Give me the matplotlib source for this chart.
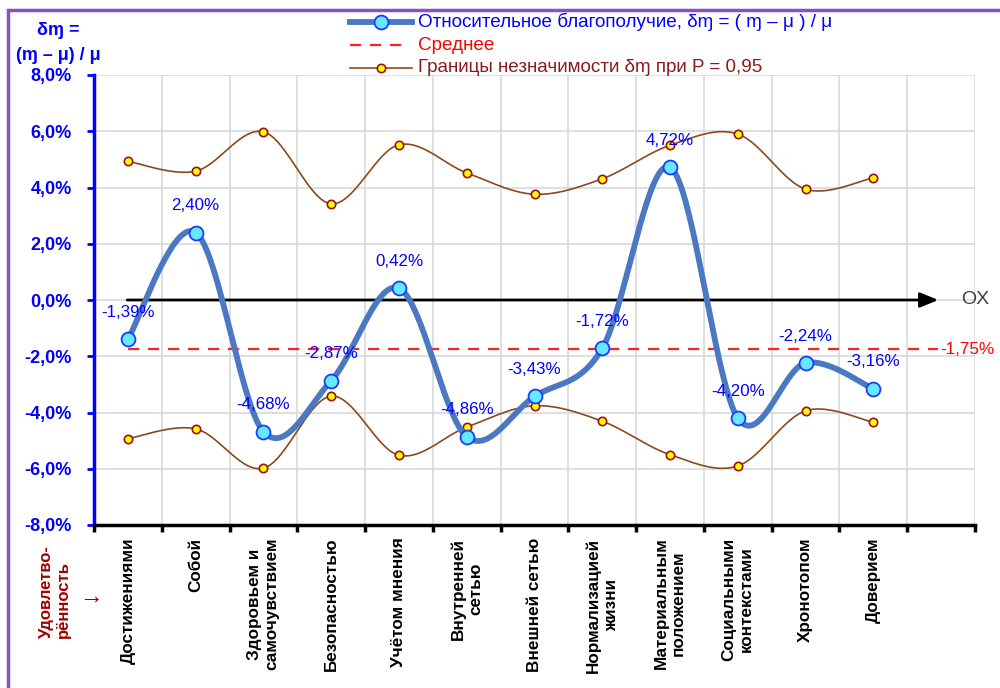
import numpy as np
import matplotlib
matplotlib.use("Agg")
import matplotlib.pyplot as plt
from matplotlib.patches import Rectangle

plt.rcParams['font.family'] = ['Liberation Sans', 'DejaVu Sans']

categories = ["Достижениями", "Собой", "Здоровьем и\nсамочувствием", "Безопасностью",
              "Учётом мнения", "Внутренней\nсетью", "Внешней сетью", "Нормализацией\nжизни",
              "Материальным\nположением", "Социальными\nконтекстами", "Хронотопом", "Доверием"]
values = [-1.39, 2.40, -4.68, -2.87, 0.42, -4.86, -3.43, -1.72, 4.72, -4.20, -2.24, -3.16]
upper = [4.93, 4.58, 5.98, 3.42, 5.52, 4.52, 3.76, 4.31, 5.50, 5.90, 3.94, 4.35]
lower = [-u for u in upper]
mean_value = -1.75
yticks = [-8, -6, -4, -2, 0, 2, 4, 6, 8]


def fmt(v):
    return ("%.2f%%" % v).replace(".", ",")


def smooth(x, y, n=40):
    x = np.asarray(x, float); y = np.asarray(y, float)
    px = np.concatenate([[x[0]], x, [x[-1]]])
    py = np.concatenate([[y[0]], y, [y[-1]]])
    xs, ys = [], []
    for i in range(1, len(px) - 2):
        p0, p1, p2, p3 = (px[i-1], py[i-1]), (px[i], py[i]), (px[i+1], py[i+1]), (px[i+2], py[i+2])
        c1 = (p1[0] + (p2[0] - p0[0]) / 6, p1[1] + (p2[1] - p0[1]) / 6)
        c2 = (p2[0] - (p3[0] - p1[0]) / 6, p2[1] - (p3[1] - p1[1]) / 6)
        t = np.linspace(0, 1, n)
        bx = (1-t)**3*p1[0] + 3*(1-t)**2*t*c1[0] + 3*(1-t)*t**2*c2[0] + t**3*p2[0]
        by = (1-t)**3*p1[1] + 3*(1-t)**2*t*c1[1] + 3*(1-t)*t**2*c2[1] + t**3*p2[1]
        xs.extend(bx); ys.extend(by)
    return np.array(xs), np.array(ys)


def fy(py):
    return 1 - py / 688


def fx(px):
    return px / 1000


fig = plt.figure(figsize=(10, 6.88), dpi=100)
ax = fig.add_axes([0.094, 1 - 525/688, 0.975 - 0.094, (525 - 75)/688])

n = len(categories)
x = np.arange(n) + 0.5
ax.set_xlim(0, 13)
ax.set_ylim(-8, 8)

# grid
for gx in range(1, 14):
    ax.axvline(gx, color='#d9d9d9', lw=1.2, zorder=0)
for gy in yticks[1:]:
    ax.axhline(gy, color='#d9d9d9', lw=1.2, zorder=0)

# OX axis arrow
ax.annotate("", xy=(12.5, 0), xytext=(0.45, 0),
            arrowprops=dict(arrowstyle="-|>,head_length=1.1,head_width=0.45", color='black', lw=2),
            zorder=3)
ax.text(12.8, 0, "OX", color='#404040', fontsize=14, va='center', ha='left', clip_on=False)

# mean line
ax.plot([0.5, 12.45], [mean_value, mean_value], color='#ff2020', lw=1.6, ls=(0, (5, 4)), zorder=3)
ax.text(12.49, mean_value, fmt(mean_value), color='#ff0000', fontsize=12.3, va='center', ha='left',
        clip_on=False)

# bounds
sx, sy = smooth(x, upper)
ax.plot(sx, sy, color='#8b4a1c', lw=1.2, zorder=4)
sx, sy = smooth(x, lower)
ax.plot(sx, sy, color='#8b4a1c', lw=1.2, zorder=4)
ax.plot(x, upper, ls='none', marker='o', ms=6, mfc='#ffff00', mec='#a01010', mew=1.2, zorder=5)
ax.plot(x, lower, ls='none', marker='o', ms=6, mfc='#ffff00', mec='#a01010', mew=1.2, zorder=5)

# main line
sx, sy = smooth(x, values)
ax.plot(sx, sy, color='#4a78c2', lw=4.2, zorder=6, solid_capstyle='round')
ax.plot(x, values, ls='none', marker='o', ms=10, mfc='#66e8ff', mec='#1a3cff', mew=1.3, zorder=7)

for xi, v in zip(x, values):
    ax.annotate(fmt(v), (xi, v), xytext=(0, 14), textcoords='offset points', ha='center',
                va='bottom', color='#0000ff', fontsize=12.2, zorder=8)

# legend (manual, in figure coordinates)
leg_x0, leg_x1, leg_tx = 350, 412, 418
rows = [(22, "Относительное благополучие, δɱ = ( ɱ – μ ) / μ", '#0000ff'),
        (45, "Среднее", '#ff0000'),
        (68, "Границы незначимости δɱ при P = 0,95", '#8b1a1a')]

fig.add_artist(plt.Line2D([fx(leg_x0), fx(leg_x1)], [fy(22), fy(22)], color='#4a78c2', lw=4.2))
fig.add_artist(plt.Line2D([fx(381)], [fy(22)], ls='none', marker='o', ms=10, mfc='#66e8ff',
                          mec='#1a3cff', mew=1.3))
fig.add_artist(plt.Line2D([fx(leg_x0), fx(406)], [fy(45), fy(45)], color='#ff2020', lw=1.6,
                          ls=(0, (5, 4))))
fig.add_artist(plt.Line2D([fx(leg_x0), fx(leg_x1)], [fy(68), fy(68)], color='#8b4a1c', lw=1.2))
fig.add_artist(plt.Line2D([fx(381)], [fy(68)], ls='none', marker='o', ms=6, mfc='#ffff00',
                          mec='#a01010', mew=1.2))
for py, txt, col in rows:
    fig.text(fx(leg_tx), fy(py), txt, color=col, fontsize=13.6, va='center', ha='left')

# axes styling
for s in ['top', 'right']:
    ax.spines[s].set_visible(False)
ax.spines['left'].set_color('#0000ff')
ax.spines['left'].set_linewidth(2.5)
ax.spines['bottom'].set_color('black')
ax.spines['bottom'].set_linewidth(2.5)

ax.set_yticks(yticks)
ax.set_yticklabels([("%.1f%%" % t).replace(".", ",") for t in yticks], color='#0000ff',
                   fontsize=13, fontweight='bold')
ax.tick_params(axis='y', colors='#0000ff', width=2, length=5, direction='out', pad=11)

ax.set_xticks(np.arange(0, 14))
ax.set_xticklabels([])
ax.tick_params(axis='x', width=2.5, length=5, direction='out', color='black')
ax.set_xticks(x, minor=True)
ax.set_xticklabels(categories, minor=True, rotation=90, ha='center', va='top',
                   multialignment='center', fontsize=12.3, fontweight='bold', color='black')
ax.tick_params(axis='x', which='minor', length=0, pad=9)

# y axis title
fig.text(fx(58), fy(43), "δɱ =\n(ɱ – μ) / μ", color='#0000ff', fontsize=13, fontweight='bold',
         ha='center', va='center', linespacing=1.55)

# satisfaction label
fig.text(fx(55), fy(592), "Удовлетво-\nрённость", color='#a00000', fontsize=12, fontweight='bold',
         rotation=90, ha='center', va='center', multialignment='left')
fig.text(fx(91), fy(597), "→", color='#a00000', fontsize=17, ha='center', va='center')

# purple frame (only top and left edges visible within the image)
fig.add_artist(Rectangle((fx(8), -1.0), 2.0, 1.0 + fy(10), transform=fig.transFigure, fill=False,
                         ec='#8a4fc0', lw=2.5))

fig.savefig("out.png", dpi=100)
